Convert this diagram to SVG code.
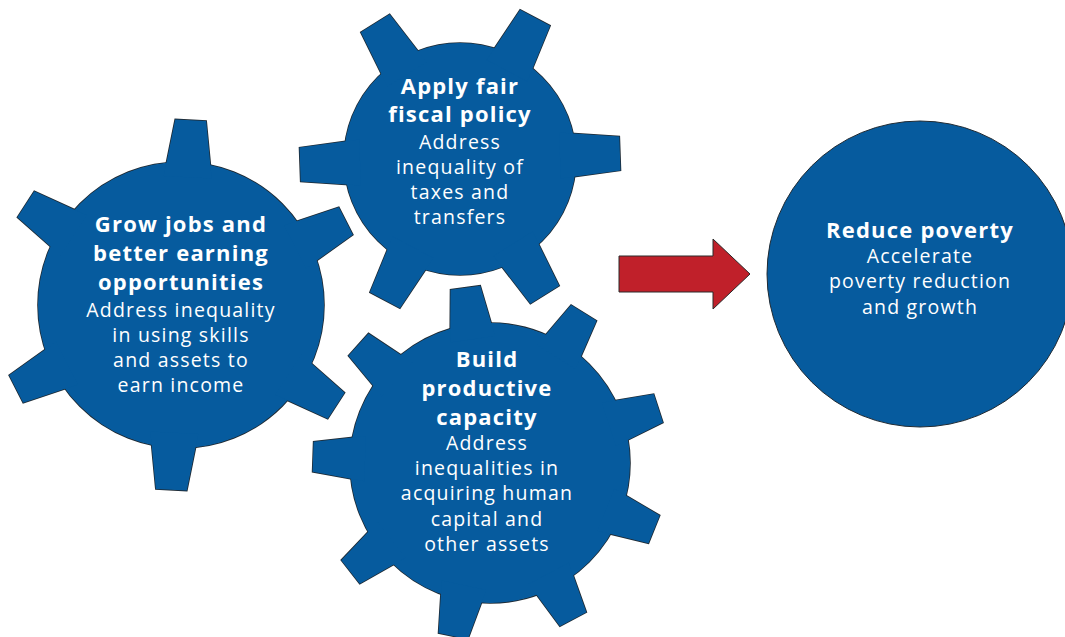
<svg xmlns="http://www.w3.org/2000/svg" xmlns:xlink="http://www.w3.org/1999/xlink" width="1065" height="637" viewBox="0 0 1065 637">
  <style>
    .edge { fill: none; stroke: #1f2a33; stroke-width: 1.6; stroke-linejoin: miter; }
    .body { fill: #065B9E; stroke: none; }
    .title { font-family: "Open Sans", "Liberation Sans", sans-serif; font-weight: 700; font-size: 22px; letter-spacing: 1.2px; fill: #ffffff; text-anchor: middle; }
    .desc { font-family: "Open Sans", "Liberation Sans", sans-serif; font-weight: 400; font-size: 19.5px; letter-spacing: 1.2px; fill: #ffffff; text-anchor: middle; }
  </style>
  <defs>
    <!-- tooth profiles, pointing up from the gear centre -->
    <polygon id="tooth-lg" points="-24,-128 -15.5,-185 15.5,-185 24,-128"/>
    <polygon id="tooth-md" points="-23,-100 -17,-160 17,-160 23,-100"/>
    <polygon id="tooth-sm" points="-22.7,-125 -15,-177 15,-177 22.7,-125"/>

    <!-- six-tooth gear, left -->
    <g id="shape-jobs" transform="translate(181,305)">
      <circle r="143"/>
      <use xlink:href="#tooth-lg" transform="rotate(3)"/>
      <use xlink:href="#tooth-lg" transform="rotate(63)"/>
      <use xlink:href="#tooth-lg" transform="rotate(123)"/>
      <use xlink:href="#tooth-lg" transform="rotate(183)"/>
      <use xlink:href="#tooth-lg" transform="rotate(243)"/>
      <use xlink:href="#tooth-lg" transform="rotate(303)"/>
    </g>

    <!-- six-tooth gear, top -->
    <g id="shape-fiscal" transform="translate(460,159)">
      <circle r="116"/>
      <use xlink:href="#tooth-md" transform="rotate(28)"/>
      <use xlink:href="#tooth-md" transform="rotate(88)"/>
      <use xlink:href="#tooth-md" transform="rotate(148)"/>
      <use xlink:href="#tooth-md" transform="rotate(208)"/>
      <use xlink:href="#tooth-md" transform="rotate(268)"/>
      <use xlink:href="#tooth-md" transform="rotate(328)"/>
    </g>

    <!-- nine-tooth gear, bottom -->
    <g id="shape-capacity" transform="translate(490,463)">
      <circle r="140"/>
      <use xlink:href="#tooth-sm" transform="rotate(-88)"/>
      <use xlink:href="#tooth-sm" transform="rotate(-48)"/>
      <use xlink:href="#tooth-sm" transform="rotate(-8)"/>
      <use xlink:href="#tooth-sm" transform="rotate(32)"/>
      <use xlink:href="#tooth-sm" transform="rotate(72)"/>
      <use xlink:href="#tooth-sm" transform="rotate(112)"/>
      <use xlink:href="#tooth-sm" transform="rotate(152)"/>
      <use xlink:href="#tooth-sm" transform="rotate(192)"/>
      <use xlink:href="#tooth-sm" transform="rotate(232)"/>
    </g>
  </defs>

  <rect width="1065" height="637" fill="#ffffff"/>

  <!-- outline pass drawn first, then fill, so only the outer edge stays visible -->
  <g id="gear-jobs">
    <use xlink:href="#shape-jobs" class="edge"/>
    <use xlink:href="#shape-jobs" class="body"/>
    <text class="title" x="181" y="232">Grow jobs and</text>
    <text class="title" x="181" y="261">better earning</text>
    <text class="title" x="181" y="290">opportunities</text>
    <text class="desc" x="181" y="317">Address inequality</text>
    <text class="desc" x="181" y="342">in using skills</text>
    <text class="desc" x="181" y="367">and assets to</text>
    <text class="desc" x="181" y="392">earn income</text>
  </g>

  <g id="gear-fiscal">
    <use xlink:href="#shape-fiscal" class="edge"/>
    <use xlink:href="#shape-fiscal" class="body"/>
    <text class="title" x="460" y="94">Apply fair</text>
    <text class="title" x="460" y="122">fiscal policy</text>
    <text class="desc" x="460" y="149">Address</text>
    <text class="desc" x="460" y="174">inequality of</text>
    <text class="desc" x="460" y="199">taxes and</text>
    <text class="desc" x="460" y="224">transfers</text>
  </g>

  <g id="gear-capacity">
    <use xlink:href="#shape-capacity" class="edge"/>
    <use xlink:href="#shape-capacity" class="body"/>
    <text class="title" x="487" y="367">Build</text>
    <text class="title" x="487" y="396">productive</text>
    <text class="title" x="487" y="425">capacity</text>
    <text class="desc" x="487" y="450">Address</text>
    <text class="desc" x="487" y="475">inequalities in</text>
    <text class="desc" x="487" y="500">acquiring human</text>
    <text class="desc" x="487" y="526">capital and</text>
    <text class="desc" x="487" y="551">other assets</text>
  </g>

  <g id="connectors">
    <polygon points="619,256 713,256 713,239 750,274 713,309 713,292 619,292" fill="#C0202A" stroke="#2a2a2a" stroke-width="1"/>
  </g>

  <g id="goal">
    <circle cx="920" cy="274" r="153" fill="#065B9E" stroke="#1f2a33" stroke-width="1"/>
    <text class="title" x="920" y="238">Reduce poverty</text>
    <text class="desc" x="920" y="263">Accelerate</text>
    <text class="desc" x="920" y="288">poverty reduction</text>
    <text class="desc" x="920" y="314">and growth</text>
  </g>
</svg>
